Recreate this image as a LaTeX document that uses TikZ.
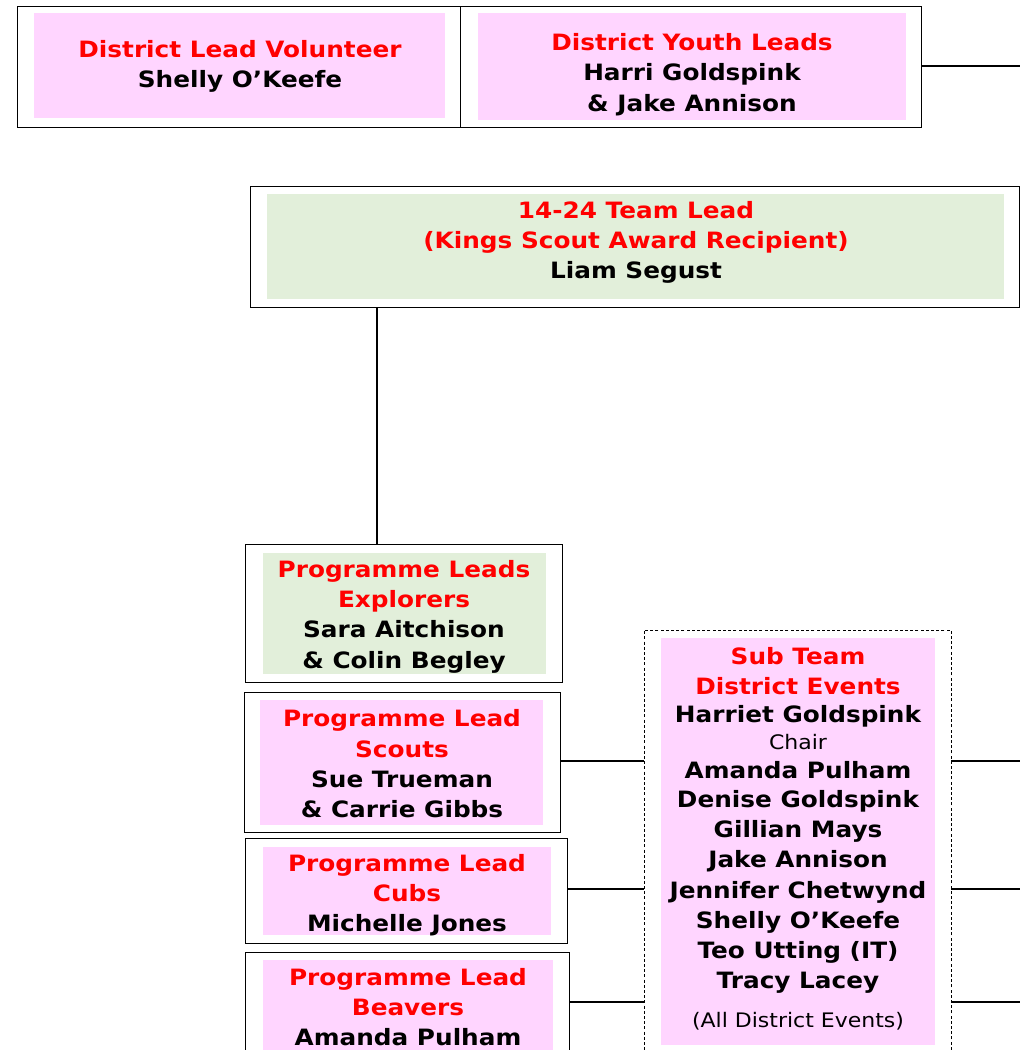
\documentclass[tikz,border=0pt]{standalone}
\usepackage{fontspec}
\usetikzlibrary{fit}
\newfontfamily\vfont{DejaVu Sans}[FakeStretch=1.1]
\definecolor{pinkfill}{RGB}{255,213,255}
\definecolor{greenfill}{RGB}{226,239,218}
\definecolor{headred}{RGB}{255,0,0}
\tikzset{
  outerbox/.style={draw=black, line width=1pt, inner sep=0pt, fill=white},
  dashbox/.style={draw=black, line width=0.9pt, dash pattern=on 3pt off 2.2pt, inner sep=0pt},
  pinkbox/.style={fill=pinkfill, inner sep=0pt},
  greenbox/.style={fill=greenfill, inner sep=0pt},
  boxtext/.style={align=center, inner sep=0pt, yshift=-2.5pt, font=\vfont\bfseries\fontsize{22.5}{30.3}\selectfont},
  evname/.style={inner sep=0pt, yshift=-1pt, font=\vfont\bfseries\fontsize{22.5}{26}\selectfont},
  evnote/.style={inner sep=0pt, font=\vfont\fontsize{20}{22}\selectfont},
  link/.style={draw=black, line width=1.6pt},
}
\newcommand{\hd}[1]{\textcolor{headred}{#1}}
\begin{document}
\begin{tikzpicture}[x=1pt, y=-1pt]
\useasboundingbox (0,0) rectangle (1020,1050);

% district leadership
\node[outerbox, fit={(17,6) (460,127)}] (dlv) {};
\node[pinkbox, fit={(34,13) (445,118)}] (dlvin) {};
\node[boxtext] (dlvt) at (240,64) {\hd{District Lead Volunteer}\\Shelly O’Keefe};

\node[outerbox, fit={(460,6) (921,127)}] (dyl) {};
\node[pinkbox, fit={(478,13) (906,120)}] (dylin) {};
\node[boxtext] (dylt) at (692,72) {\hd{District Youth Leads}\\Harri Goldspink\\\& Jake Annison};
\coordinate (dylend) at (1020,66);
\draw[link] (dyl.east |- dylend) -- (dylend);

% 14-24 team lead
\node[outerbox, fit={(250,186) (1019,307)}] (lead) {};
\node[greenbox, fit={(267,194) (1004,299)}] (leadin) {};
\node[boxtext] (leadt) at (636,240) {\hd{14-24 Team Lead}\\\hd{(Kings Scout Award Recipient)}\\Liam Segust};

% programme leads
\node[outerbox, fit={(245,544) (562,682)}] (expl) {};
\node[greenbox, fit={(263,553) (546,674)}] (explin) {};
\node[boxtext] (explt) at (404,614) {\hd{Programme Leads}\\\hd{Explorers}\\Sara Aitchison\\\& Colin Begley};

\node[outerbox, fit={(244,692) (560,832)}] (scouts) {};
\node[pinkbox, fit={(260,700) (543,825)}] (scoutsin) {};
\node[boxtext] (scoutst) at (402,761.5) {\hd{Programme Lead}\\\hd{Scouts}\\Sue Trueman\\\& Carrie Gibbs};

\node[outerbox, fit={(245,838) (567,943)}] (cubs) {};
\node[pinkbox, fit={(263,847) (551,935)}] (cubsin) {};
\node[boxtext] (cubst) at (407,892.5) {\hd{Programme Lead}\\\hd{Cubs}\\Michelle Jones};

\node[outerbox, fit={(245,952) (569,1060)}] (beav) {};
\node[pinkbox, fit={(263,960) (553,1055)}] (beavin) {};
\node[boxtext] (beavt) at (408,1004.5) {\hd{Programme Lead}\\\hd{Beavers}\\Amanda Pulham};

\coordinate (lv) at (377,0);
\draw[link, line width=1.3pt] (lead.south -| lv) -- (expl.north -| lv);

% district events sub team
\node[dashbox, fit={(644,630) (951,1060)}] (events) {};
\node[pinkbox, fit={(661,638) (935,1045)}] (eventsin) {};
\foreach \yy/\txt/\sty [count=\i] in {
    655/\hd{Sub Team}/evname,
    685/\hd{District Events}/evname,
    715/Harriet Goldspink/evname,
    742/Chair/evnote,
    769/Amanda Pulham/evname,
    800/Denise Goldspink/evname,
    830/Gillian Mays/evname,
    860/Jake Annison/evname,
    891/Jennifer Chetwynd/evname,
    921/Shelly O’Keefe/evname,
    951/Teo Utting (IT)/evname,
    982/Tracy Lacey/evname,
    1021/(All District Events)/evnote}
  \node[\sty] (ev\i) at (798,\yy) {\txt};

% links between programme leads and the sub team
\coordinate (r1) at (1020,761);
\coordinate (r2) at (1020,889);
\coordinate (r3) at (1020,1002);
\draw[link] (scouts.east |- r1) -- (events.west |- r1);
\draw[link] (cubs.east |- r2) -- (events.west |- r2);
\draw[link] (beav.east |- r3) -- (events.west |- r3);
\draw[link] (events.east |- r1) -- (r1);
\draw[link] (events.east |- r2) -- (r2);
\draw[link] (events.east |- r3) -- (r3);
\end{tikzpicture}
\end{document}
